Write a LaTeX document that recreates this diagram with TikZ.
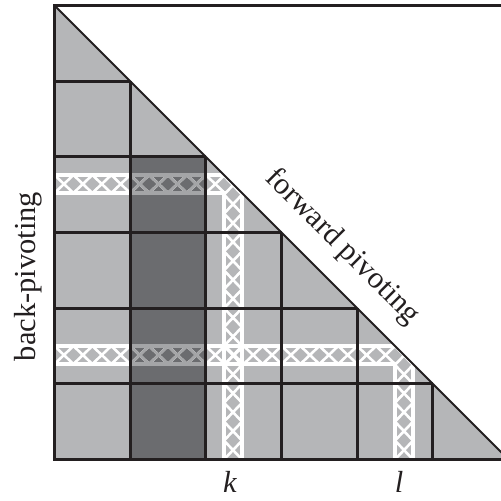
\documentclass[tikz,border=0pt]{standalone}
\usepackage{fontspec}
\setmainfont{Liberation Serif}
\definecolor{lg}{HTML}{B5B6B8}
\definecolor{dg}{HTML}{6B6C6F}
\definecolor{ink}{HTML}{231F20}
\definecolor{sg}{HTML}{A4A5A7}
\tikzset{
  gridline/.style={draw=ink, line width=3pt},
  diagline/.style={draw=ink, line width=2pt},
  band/.style={line width=4pt},
  cross/.style={line width=2.6pt},
  lab/.style={font=\fontsize{30.5}{36}\selectfont, inner sep=0pt, text=ink}
}
% strip at position #1 (relative), colour #2
\newcommand\hatchstrip[2]{%
  \draw[band, #2] (-5,{#1-9}) -- ({#1+9},{#1-9}) -- ({#1+9},470);
  \draw[band, #2] (-5,{#1+9}) -- ({#1-9},{#1+9}) -- ({#1-9},470);
  \begin{scope}
    \clip (-2,{#1-11}) rectangle ({#1-9},{#1+11});
    \foreach \i in {0,...,24}{
      \draw[cross, #2] ({\i*18.9175},{#1-9}) -- ({(\i+1)*18.9175},{#1+9});
      \draw[cross, #2] ({\i*18.9175},{#1+9}) -- ({(\i+1)*18.9175},{#1-9});
    }
  \end{scope}
  \begin{scope}
    \clip ({#1-11},{#1-9}) rectangle ({#1+11},470);
    \foreach \i in {0,...,24}{
      \draw[cross, #2] ({#1-9},{\i*18.9175}) -- ({#1+9},{(\i+1)*18.9175});
      \draw[cross, #2] ({#1+9},{\i*18.9175}) -- ({#1-9},{(\i+1)*18.9175});
    }
  \end{scope}
}
\begin{document}
\begin{tikzpicture}[x=1pt,y=-1pt]
\useasboundingbox (0,0) rectangle (501,501);
\clip (0,0) rectangle (501,501);
\begin{scope}[shift={(54.5,5.5)}]
  % fills
  \fill[lg] (0,0) -- (0,454) -- (454,454) -- cycle;
  \fill[dg] (75.67,151.33) rectangle (151.33,454);
  % hatched strips
  \begin{scope}
    \clip (0,0) -- (0,454) -- (454,454) -- cycle;
    \hatchstrip{178.5}{white}
    \hatchstrip{349.5}{white}
    \begin{scope}
      \clip (75.67,151.33) rectangle (151.33,454);
      \hatchstrip{178.5}{sg}
      \hatchstrip{349.5}{sg}
    \end{scope}
  \end{scope}
  % grid lines
  \foreach \i in {1,...,5}{
    \draw[gridline] (0,{\i*75.67}) -- ({\i*75.67},{\i*75.67});
    \draw[gridline] ({\i*75.67},{\i*75.67}) -- ({\i*75.67},454);
  }
  \draw[gridline, line join=miter] (520,0) -- (0,0) -- (0,454) -- (520,454);
  \draw[diagline] (0,0) -- (454,454);
\end{scope}
% labels
\node[lab, rotate=90, anchor=base] (back) at (35,276.5) {back-pivoting};
\node[lab, rotate=-45, anchor=base] (fwd) at (337,252) {forward pivoting};
\node[lab, anchor=base] (k) at (230,492) {\textit{k}};
\node[lab, anchor=base] (l) at (399,492) {\textit{l}};
\end{tikzpicture}
\end{document}
